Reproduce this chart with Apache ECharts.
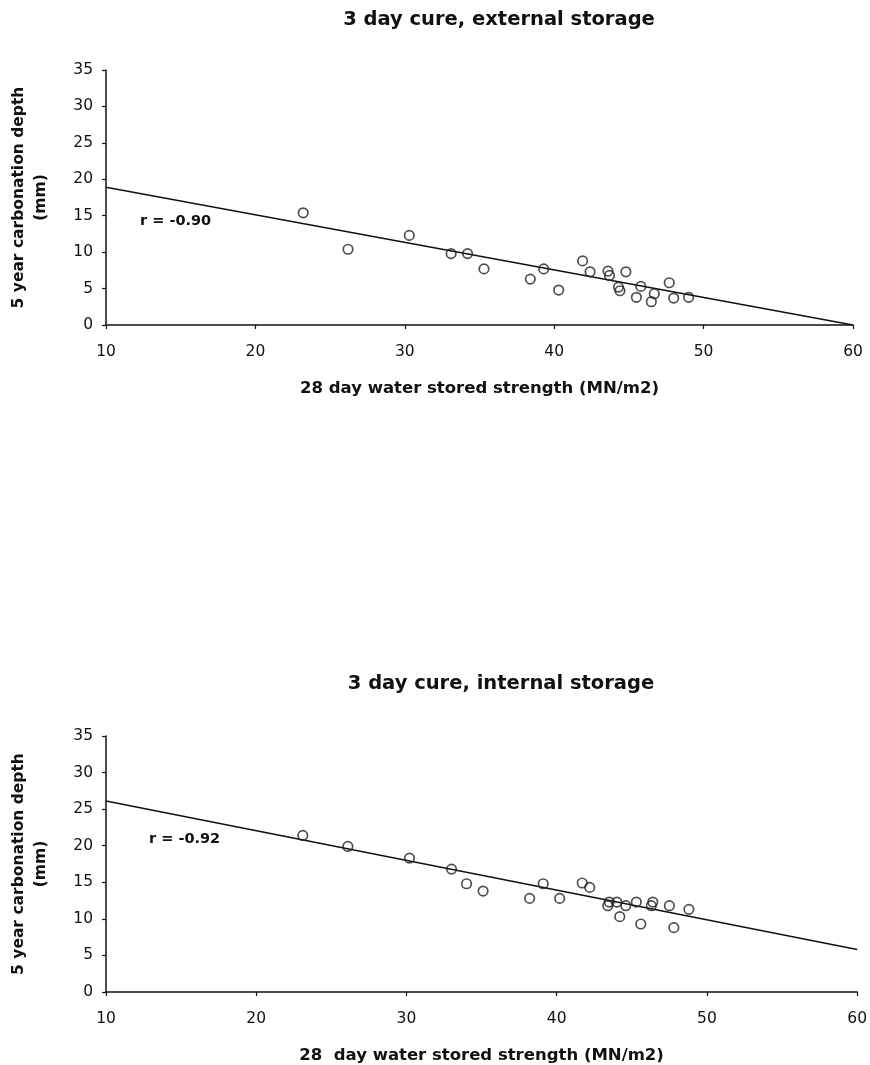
<!DOCTYPE html>
<html>
<head>
<meta charset="utf-8">
<script src="https://cdn.jsdelivr.net/npm/echarts@6/dist/echarts.min.js"></script>
<style>
  html, body { margin: 0; padding: 0; background: #fff; }
  #chart { width: 870px; height: 1065px; }
</style>
</head>
<body>
<div id="chart"></div>
<script>
// Strength (MN/m2) vs 5-year carbonation depth (mm), 3 day cure
const externalPoints = [
  [23.2, 15.4], [26.2, 10.4], [30.3, 12.3], [33.1, 9.8], [34.2, 9.8],
  [35.3, 7.7], [38.4, 6.3], [39.3, 7.7], [40.3, 4.8], [41.9, 8.8],
  [42.4, 7.3], [43.6, 7.4], [43.7, 6.8], [44.8, 7.3], [44.3, 5.2],
  [44.4, 4.7], [45.8, 5.3], [45.5, 3.8], [46.7, 4.3], [46.5, 3.2],
  [47.7, 5.8], [48.0, 3.7], [49.0, 3.8]
];
const externalTrend = [[10, 18.9], [60, 0]];
const externalR = 'r = -0.90';

const internalPoints = [
  [23.1, 21.4], [26.1, 19.9], [30.2, 18.3], [33.0, 16.8], [34.0, 14.8],
  [35.1, 13.8], [38.2, 12.8], [39.1, 14.8], [40.2, 12.8], [41.7, 14.9],
  [42.2, 14.3], [43.5, 12.3], [43.4, 11.8], [44.0, 12.3], [44.2, 10.3],
  [44.6, 11.8], [45.3, 12.3], [45.6, 9.3], [46.4, 12.3], [46.3, 11.8],
  [47.5, 11.8], [47.8, 8.8], [48.8, 11.3]
];
const internalTrend = [[10, 26.1], [60, 5.8]];
const internalR = 'r = -0.92';

const titles = ['3 day cure, external storage', '3 day cure, internal storage'];
const xNames = ['28 day water stored strength (MN/m2)', '28  day water stored strength (MN/m2)'];
const yName = '5 year carbonation depth\n(mm)';

const FONT = '"DejaVu Sans", Verdana, sans-serif';
const INK = '#111';

function xAxisFor(gridIndex, name) {
  return {
    type: 'value', gridIndex, min: 10, max: 60, interval: 10,
    name, nameLocation: 'middle', nameGap: 55,
    nameTextStyle: { fontFamily: FONT, fontWeight: 'bold', fontSize: 16.5, color: INK },
    axisLine: { show: true, onZero: false, lineStyle: { color: INK, width: 1.5 } },
    axisTick: { show: true, length: 4, lineStyle: { color: INK, width: 1.2 } },
    axisLabel: { fontFamily: FONT, fontSize: 15.5, color: INK, margin: 19 },
    splitLine: { show: false }
  };
}
function yAxisFor(gridIndex) {
  return {
    type: 'value', gridIndex, min: 0, max: 35, interval: 5,
    name: yName, nameLocation: 'middle', nameGap: 54, nameRotate: 90,
    nameTextStyle: { fontFamily: FONT, fontWeight: 'bold', fontSize: 15.5, color: INK, lineHeight: 22 },
    axisLine: { show: true, onZero: false, lineStyle: { color: INK, width: 1.5 } },
    axisTick: { show: true, length: 4, lineStyle: { color: INK, width: 1.2 } },
    axisLabel: { fontFamily: FONT, fontSize: 15.5, color: INK, margin: 13 },
    splitLine: { show: false }
  };
}
function scatterFor(i, data) {
  return {
    type: 'scatter', xAxisIndex: i, yAxisIndex: i, data,
    symbol: 'circle', symbolSize: 9.5,
    itemStyle: { color: 'rgba(255,255,255,0)', borderColor: '#222', borderWidth: 1.7 },
    z: 3
  };
}
function trendFor(i, data) {
  return {
    type: 'line', xAxisIndex: i, yAxisIndex: i, data,
    showSymbol: false, symbol: 'none',
    lineStyle: { color: INK, width: 1.5 }, z: 2
  };
}

const chart = echarts.init(document.getElementById('chart'), null, { renderer: 'canvas' });
chart.setOption({
  backgroundColor: '#fff',
  animation: false,
  title: [
    { text: titles[0], left: 494, top: 5, textAlign: 'center',
      textStyle: { fontFamily: FONT, fontWeight: 'bold', fontSize: 19.5, color: INK } },
    { text: titles[1], left: 496, top: 669, textAlign: 'center',
      textStyle: { fontFamily: FONT, fontWeight: 'bold', fontSize: 19.5, color: INK } }
  ],
  grid: [
    { left: 99, right: 17, top: 70, height: 255, containLabel: false },
    { left: 102, right: 9, top: 736, height: 256, containLabel: false }
  ],
  xAxis: [xAxisFor(0, xNames[0]), xAxisFor(1, xNames[1])],
  yAxis: [yAxisFor(0), yAxisFor(1)],
  series: [
    trendFor(0, externalTrend), scatterFor(0, externalPoints),
    trendFor(1, internalTrend), scatterFor(1, internalPoints)
  ],
  graphic: [
    { type: 'text', left: 140, top: 214,
      style: { text: externalR, font: 'bold 14.5px ' + FONT, fill: INK } },
    { type: 'text', left: 149, top: 832,
      style: { text: internalR, font: 'bold 14.5px ' + FONT, fill: INK } }
  ]
});
</script>
</body>
</html>
